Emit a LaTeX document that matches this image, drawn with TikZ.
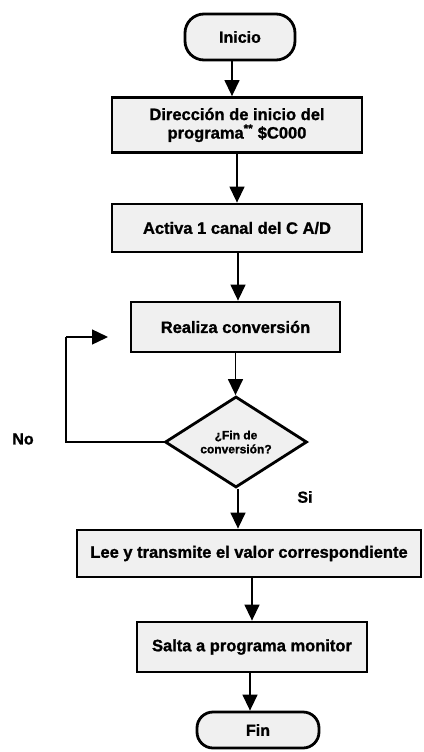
\documentclass[tikz,border=0pt]{standalone}
\usepackage{fontspec}
\setmainfont{Liberation Sans}[BoldFeatures={FakeBold=1.2}]
\usetikzlibrary{arrows.meta,shapes.geometric,calc}

\tikzset{
  boxfill/.style={fill=black!6},
  procbox/.style={draw, boxfill, line width=2.8pt, rectangle, inner sep=0pt,
    align=center, font=\fontsize{16.5}{18.5}\selectfont\bfseries},
  termbox/.style={draw, boxfill, line width=2.8pt, rectangle, rounded corners=19pt,
    inner sep=0pt, align=center, font=\fontsize{16}{18}\selectfont\bfseries},
  decbox/.style={draw, boxfill, line width=2.8pt, diamond, aspect=1.55, inner sep=0pt,
    align=center, font=\fontsize{12}{14}\selectfont\bfseries},
  flow/.style={line width=1.4pt, -{Triangle[length=16pt,width=15pt]}},
  plainline/.style={line width=1.4pt},
  lbl/.style={font=\fontsize{16}{18}\selectfont\bfseries}
}

\begin{document}
\begin{tikzpicture}[x=1pt,y=-1pt]
  \useasboundingbox (0,0) rectangle (423,752);

  % process steps
  \node[termbox, minimum width=110pt, minimum height=46pt] (inicio) at (240,37) {Inicio};
  \node[procbox, minimum width=250pt, minimum height=55pt] (dir) at (237,125)
    {Dirección de inicio del\\programa\textsuperscript{**} \$C000};
  \node[procbox, minimum width=250pt, minimum height=48pt] (canal) at (237,228)
    {Activa 1 canal del C A/D};
  \node[procbox, minimum width=209pt, minimum height=50pt] (conv) at (235.5,327)
    {Realiza conversión};
  \node[decbox, minimum width=142pt, minimum height=91pt] (fin?) at (236,442)
    {¿Fin de\\conversión?};
  \node[procbox, minimum width=344pt, minimum height=47pt] (lee) at (249,553.5)
    {Lee y transmite el valor correspondiente};
  \node[procbox, minimum width=230pt, minimum height=50pt] (salta) at (252,647)
    {Salta a programa monitor};
  \node[termbox, minimum width=122pt, minimum height=36pt, rounded corners=16pt] (fin) at (258,730) {Fin};

  % branch labels
  \node[lbl] (no) at (23,439) {No};
  \node[lbl] (si) at (305,497) {Si};

  % main flow
  \draw[flow] ([xshift=-8pt]inicio.south) -- ([xshift=-8pt]inicio.south |- dir.north);
  \draw[flow] (dir.south) -- (dir.south |- canal.north);
  \draw[flow] ([xshift=1pt]canal.south) -- ([xshift=1pt]canal.south |- conv.north);
  \draw[flow] (conv.south) -- (conv.south |- fin?.north);
  \draw[flow] ([xshift=2pt]fin?.south) -- ([xshift=2pt]fin?.south |- lee.north);
  \draw[flow] (salta.north |- lee.south) -- (salta.north);
  \draw[flow] ([xshift=-2pt]salta.south) -- ([xshift=-2pt]salta.south |- fin.north);

  % "No" loop back to the conversion step
  \coordinate (loopa) at (66,442);
  \coordinate (loopb) at (66,337);
  \coordinate (loopend) at (108,337);
  \draw[plainline] (fin?.west) -- (loopa) -- (loopb);
  \draw[flow] (loopb) -- (loopend);
\end{tikzpicture}
\end{document}
